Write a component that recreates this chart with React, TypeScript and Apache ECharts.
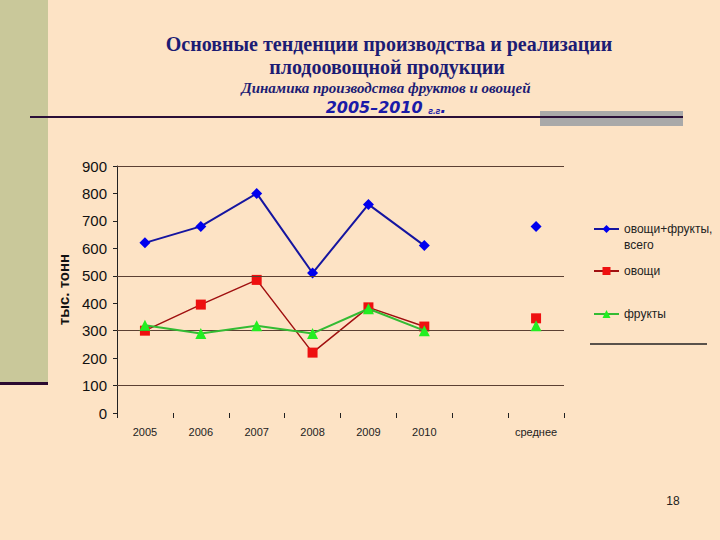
import React, { useEffect, useRef } from "react";
import * as echarts from "echarts";

const categories = ["2005", "2006", "2007", "2008", "2009", "2010", "", "среднее"];
const totalValues = [620, 680, 800, 510, 760, 610, null, 680];
const vegValues = [300, 395, 485, 220, 385, 315, null, 345];
const fruitValues = [320, 290, 318, 290, 380, 300, null, 318];
const gridValues = [100, 300, 500, 900];
const seriesNames = ["овощи+фрукты, всего", "овощи", "фрукты"];

const TITLE_COLOR = "#1c1c74";

export default function App() {
  const ref = useRef<HTMLDivElement>(null);
  useEffect(() => {
    document.body.style.margin = "0";
    const chart = echarts.init(ref.current!, null, { renderer: "svg" });
    const legendText = { fontFamily: "Liberation Sans", fontSize: 12, color: "#222", lineHeight: 16 };
    const makeLegend = (name: string, top: number, fmt?: (n: string) => string) => ({
      data: [name],
      orient: "vertical",
      left: 593,
      top,
      padding: 0,
      itemWidth: 25,
      itemHeight: 10,
      itemGap: 0,
      textStyle: legendText,
      formatter: fmt,
    });
    chart.setOption({
      animation: false,
      backgroundColor: "#fde3c5",
      grid: { left: 117, right: 156, top: 166, bottom: 127 },
      legend: [
        makeLegend(seriesNames[0], 205, () => "\u00a0\nовощи+фрукты,\nвсего"),
        makeLegend(seriesNames[1], 263),
        makeLegend(seriesNames[2], 306),
      ],
      xAxis: {
        type: "category",
        data: categories,
        boundaryGap: true,
        axisLine: { show: false },
        axisTick: { show: true, length: 5, lineStyle: { color: "#222" } },
        axisLabel: { fontFamily: "Liberation Sans", fontSize: 11, color: "#222", margin: 13, interval: 0 },
        splitLine: { show: false },
      },
      yAxis: {
        type: "value",
        min: 0,
        max: 900,
        interval: 100,
        name: "тыс. тонн",
        nameLocation: "middle",
        nameRotate: 90,
        nameGap: 45,
        nameTextStyle: { fontFamily: "Liberation Sans", fontSize: 15, fontWeight: "bold", color: "#111" },
        axisLine: { show: true, lineStyle: { color: "#222", width: 1 } },
        axisTick: { show: true, length: 4, lineStyle: { color: "#222" } },
        axisLabel: { fontFamily: "Liberation Sans", fontSize: 15, color: "#111", margin: 10 },
        splitLine: { show: false },
      },
      series: [
        {
          type: "line",
          name: "grid",
          data: [],
          silent: true,
          z: 1,
          markLine: {
            silent: true,
            symbol: ["none", "none"],
            label: { show: false },
            lineStyle: { type: "solid", color: "#5c4033", width: 1 },
            data: gridValues.map((v) => ({ yAxis: v })),
          },
        },
        {
          type: "line",
          name: seriesNames[0],
          data: totalValues,
          symbol: "diamond",
          symbolSize: 11,
          lineStyle: { color: "#1515a0", width: 2 },
          itemStyle: { color: "#0000ee" },
          z: 3,
        },
        {
          type: "line",
          name: seriesNames[1],
          data: vegValues,
          symbol: "rect",
          symbolSize: 10,
          lineStyle: { color: "#a01010", width: 1.5 },
          itemStyle: { color: "#ee1010" },
          z: 4,
        },
        {
          type: "line",
          name: seriesNames[2],
          data: fruitValues,
          symbol: "triangle",
          symbolSize: 11,
          lineStyle: { color: "#33bb33", width: 2 },
          itemStyle: { color: "#22ee22" },
          z: 5,
        },
      ],
      graphic: [
        { type: "rect", shape: { x: 0, y: 0, width: 48, height: 382 }, style: { fill: "#c9c89a" }, z: 0 },
        { type: "rect", shape: { x: 0, y: 382, width: 48, height: 3 }, style: { fill: "#2a0a30" }, z: 0 },
        { type: "rect", shape: { x: 540, y: 111, width: 143, height: 15 }, style: { fill: "#a9a9a9" }, z: 0 },
        { type: "line", shape: { x1: 30, y1: 117, x2: 683, y2: 117 }, style: { stroke: "#2a0f38", lineWidth: 2 }, z: 1 },
        { type: "line", shape: { x1: 590, y1: 344, x2: 707, y2: 344 }, style: { stroke: "#222", lineWidth: 1.5 }, z: 1 },
        {
          type: "text", x: 389, y: 44,
          style: { text: "Основные тенденции производства и реализации", fontFamily: "Liberation Serif", fontWeight: "bold", fontSize: 20, fill: TITLE_COLOR, align: "center", verticalAlign: "middle" },
        },
        {
          type: "text", x: 387, y: 67,
          style: { text: "плодоовощной продукции", fontFamily: "Liberation Serif", fontWeight: "bold", fontSize: 20, fill: TITLE_COLOR, align: "center", verticalAlign: "middle" },
        },
        {
          type: "text", x: 386, y: 88,
          style: { text: "Динамика производства фруктов и овощей", fontFamily: "Liberation Serif", fontWeight: "bold", fontStyle: "italic", fontSize: 15, fill: TITLE_COLOR, align: "center", verticalAlign: "middle" },
        },
        {
          type: "text", x: 386, y: 107,
          style: {
            text: "{a|2005–2010 }{b|г.г}{a|.}",
            align: "center",
            verticalAlign: "middle",
            rich: {
              a: { fontFamily: "DejaVu Sans", fontWeight: "bold", fontStyle: "italic", fontSize: 16, fill: "#1a1aa8" },
              b: { fontFamily: "Liberation Sans", fontWeight: "bold", fontStyle: "italic", fontSize: 9, fill: "#1a1aa8", verticalAlign: "bottom" },
            },
          },
        },
        {
          type: "text", x: 673, y: 501,
          style: { text: "18", fontFamily: "Liberation Sans", fontSize: 12, fill: "#222", align: "center", verticalAlign: "middle" },
        },
      ],
    });
    return () => chart.dispose();
  }, []);
  return <div ref={ref} style={{ position: "fixed", left: 0, top: 0, width: 720, height: 540 }} />;
}
